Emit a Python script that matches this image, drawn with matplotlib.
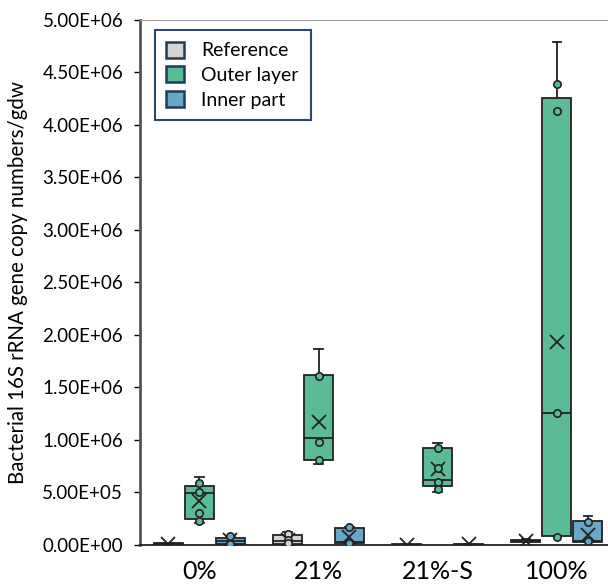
import numpy as np
import matplotlib.pyplot as plt
from matplotlib.patches import Patch
from matplotlib.ticker import FuncFormatter

#------------------------------------------------------------------------------
# data, order: 0%, 21%, 21%-S, 100%
#------------------------------------------------------------------------------

categories=['0%','21%','21%-S','100%']
series=['Reference','Outer layer','Inner part']

ref_whislo=[0.,0.,0.,2.5e4]
ref_q1    =[2e3,5e3,1e3,3.0e4]
ref_med   =[6e3,4e4,3e3,4.0e4]
ref_q3    =[1.5e4,9.5e4,6e3,5.2e4]
ref_whishi=[2e4,1.24e5,1e4,5.5e4]
ref_mean  =[1e4,4.8e4,4e3,4.2e4]
ref_points=[[],[1.0e5,4.5e4,2e4],[],[]]

out_whislo=[2.1e5,7.7e5,5.06e5,0.86e5]
out_q1    =[2.48e5,8.1e5,5.63e5,0.86e5]
out_med   =[4.96e5,1.02e6,6.2e5,1.26e6]
out_q3    =[5.63e5,1.62e6,9.26e5,4.26e6]
out_whishi=[6.49e5,1.87e6,9.73e5,4.79e6]
out_mean  =[4.2e5,1.17e6,7.25e5,1.93e6]
out_points=[[5.92e5,5.06e5,3.05e5,2.29e5],
            [1.61e6,9.8e5,8.1e5],
            [9.26e5,7.3e5,6.0e5,5.34e5],
            [4.39e6,4.13e6,1.26e6,0.76e5]]

inn_whislo=[5e3,1.5e4,0.,2.5e4]
inn_q1    =[1e4,1.9e4,2e3,2.9e4]
inn_med   =[4e4,2.5e4,4e3,4e4]
inn_q3    =[7e4,1.62e5,8e3,2.29e5]
inn_whishi=[9e4,1.72e5,1.2e4,2.77e5]
inn_mean  =[4.5e4,7.6e4,5e3,9.5e4]
inn_points=[[8.5e4,1e4],[1.72e5,1.9e4],[],[2.19e5,3.5e4]]

colors=['#d4d4d4','#5bbb96','#68a7c6']

#------------------------------------------------------------------------------

def make_stats(whislo,q1,med,q3,whishi,mean):
    stats=[]
    for i in range(0,len(med)):
        stats.append({'whislo':whislo[i],'q1':q1[i],'med':med[i],'q3':q3[i],
                      'whishi':whishi[i],'mean':mean[i],'fliers':[]})
    return stats

#------------------------------------------------------------------------------

plt.rcParams['font.family']=['Lato','DejaVu Sans']

fig=plt.figure(figsize=(6.08,5.86),dpi=100)
ax=fig.add_axes([0.230,0.070,0.770,0.896])

all_stats=[make_stats(ref_whislo,ref_q1,ref_med,ref_q3,ref_whishi,ref_mean),
           make_stats(out_whislo,out_q1,out_med,out_q3,out_whishi,out_mean),
           make_stats(inn_whislo,inn_q1,inn_med,inn_q3,inn_whishi,inn_mean)]
all_points=[ref_points,out_points,inn_points]
offsets=[-0.26,0.0,0.26]
x=np.arange(len(categories))
edge='#222222'

for k in range(0,3):
    pos=x+offsets[k]
    ax.bxp(all_stats[k],positions=pos,widths=0.245,showmeans=True,
           patch_artist=True,showfliers=False,capwidths=0.07,
           boxprops=dict(facecolor=colors[k],edgecolor=edge,linewidth=1.3),
           medianprops=dict(color=edge,linewidth=1.3),
           whiskerprops=dict(color=edge,linewidth=1.3),
           capprops=dict(color=edge,linewidth=1.3),
           meanprops=dict(marker='x',markeredgecolor=edge,markersize=10,markeredgewidth=1.3))
    for i in range(0,len(categories)):
        pts=all_points[k][i]
        ax.scatter(np.full(len(pts),pos[i]),pts,s=28,facecolor=colors[k],
                   edgecolor=edge,linewidth=1.2,zorder=5)

ax.set_xlim(-0.5,3.43)
ax.set_ylim(0,5.0e6)
ax.set_yticks(np.arange(0,5.01e6,5e5))
ax.yaxis.set_major_formatter(FuncFormatter(lambda v,p: ('%.2E' % v)))
ax.set_xticks(x)
ax.set_xticklabels(categories,fontsize=18)
ax.tick_params(axis='x',length=0,pad=11)
ax.tick_params(axis='y',labelsize=13.5,length=4,width=1,direction='out',pad=8)

ax.spines['right'].set_visible(False)
ax.spines['top'].set_color('#a0a0a0')
ax.spines['left'].set_color('#555555')
ax.spines['left'].set_linewidth(2)
ax.spines['bottom'].set_color('#222222')
ax.spines['bottom'].set_linewidth(1.3)

ax.set_ylabel('Bacterial 16S rRNA gene copy numbers/gdw',fontsize=14.8,labelpad=10)

handles=[Patch(facecolor=colors[k],edgecolor='#1f3a5a',linewidth=1.8) for k in range(0,3)]
leg=ax.legend(handles,series,loc='upper left',bbox_to_anchor=(0.032,0.981),fontsize=14,
              fancybox=False,framealpha=1,edgecolor='#2b4a6b',handlelength=0.9,
              handleheight=0.9,handletextpad=0.9,labelspacing=0.35,borderpad=0.6,
              borderaxespad=0)
leg.get_frame().set_linewidth(1.5)

plt.savefig('out.png',dpi=100)
